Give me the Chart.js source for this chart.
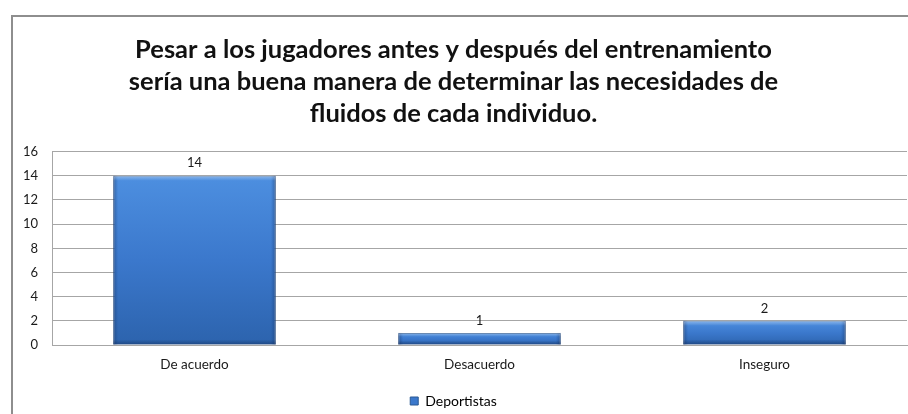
<!DOCTYPE html>
<html>
<head>
<meta charset="utf-8">
<script src="https://cdn.jsdelivr.net/npm/chart.js@4"></script>
<style>
  html, body { margin: 0; padding: 0; background: #fff; }
  #wrap { position: relative; width: 908px; height: 414px; overflow: hidden; }
  #frame {
    position: absolute; left: 11px; top: 15px; width: 920px; height: 420px;
    border-left: 2px solid #8e8e8e; border-top: 2px solid #8e8e8e;
  }
  #chart { position: absolute; left: 0; top: 0; }
</style>
</head>
<body>
<div id="wrap">
  <div id="frame"></div>
  <canvas id="chart" width="908" height="414"></canvas>
</div>
<script>
const categories = ['De acuerdo', 'Desacuerdo', 'Inseguro'];
const deportistas = [14, 1, 2];
const titleLines = [
    'Pesar a los jugadores antes y después del entrenamiento',
    'sería una buena manera de determinar las necesidades de',
    'fluidos de cada individuo.'
];

// vertical gradient per bar, lighter at the top
function barFill(context) {
    const chart = context.chart;
    const y = chart.scales.y;
    if (!y || !chart.chartArea) return '#3c78c8';
    const v = context.raw || 0;
    const top = y.getPixelForValue(v);
    const bottom = y.getPixelForValue(0);
    const g = chart.ctx.createLinearGradient(0, top, 0, bottom);
    g.addColorStop(0, '#4d8fe0');
    g.addColorStop(0.5, '#3b78cc');
    g.addColorStop(1, '#2c63ad');
    return g;
}

// darker edges to give the bars a bevelled look, plus value labels
const barExtras = {
    id: 'barExtras',
    afterDatasetsDraw(chart) {
        const ctx = chart.ctx;
        const meta = chart.getDatasetMeta(0);
        meta.data.forEach((bar, i) => {
            const left = bar.x - bar.width / 2;
            const right = bar.x + bar.width / 2;
            const top = bar.y;
            const bottom = bar.base;
            ctx.save();
            const h = ctx.createLinearGradient(left, 0, right, 0);
            h.addColorStop(0, 'rgba(20,50,100,0.45)');
            h.addColorStop(0.03, 'rgba(20,50,100,0.0)');
            h.addColorStop(0.97, 'rgba(20,50,100,0.0)');
            h.addColorStop(1, 'rgba(20,50,100,0.45)');
            ctx.fillStyle = h;
            ctx.fillRect(left, top, right - left, bottom - top);
            const edge = Math.min(5, (bottom - top) / 3);
            const t = ctx.createLinearGradient(0, top, 0, top + edge);
            t.addColorStop(0, 'rgba(255,255,255,0.35)');
            t.addColorStop(1, 'rgba(255,255,255,0)');
            ctx.fillStyle = t;
            ctx.fillRect(left, top, right - left, edge);
            const b = ctx.createLinearGradient(0, bottom - edge, 0, bottom);
            b.addColorStop(0, 'rgba(10,30,70,0)');
            b.addColorStop(1, 'rgba(10,30,70,0.4)');
            ctx.fillStyle = b;
            ctx.fillRect(left, bottom - edge, right - left, edge);

            ctx.fillStyle = '#1a1a1a';
            ctx.font = '13px Lato';
            ctx.textAlign = 'center';
            ctx.textBaseline = 'bottom';
            ctx.fillText(String(deportistas[i]), bar.x, top - 6);
            ctx.restore();
        });
    }
};

new Chart(document.getElementById('chart'), {
    type: 'bar',
    data: {
        labels: categories,
        datasets: [{
            label: 'Deportistas',
            data: deportistas,
            backgroundColor: barFill,
            borderColor: '#2a5994',
            borderWidth: 1,
            categoryPercentage: 1,
            barPercentage: 0.57
        }]
    },
    options: {
        responsive: false,
        animation: false,
        layout: { padding: { top: 34, right: 1, left: 0, bottom: -4 } },
        plugins: {
            title: {
                display: true,
                text: titleLines,
                color: '#111',
                font: { family: 'Lato', size: 25.5, weight: 'bold', lineHeight: 1.25 },
                padding: { top: 0, bottom: 22 }
            },
            legend: {
                position: 'bottom',
                labels: {
                    color: '#1a1a1a',
                    font: { family: 'Lato', size: 14 },
                    boxWidth: 8,
                    boxHeight: 8,
                    padding: 1,
                    generateLabels: chart => [{
                        text: 'Deportistas',
                        fillStyle: '#3b78cc',
                        strokeStyle: '#2a5994',
                        lineWidth: 1,
                        datasetIndex: 0
                    }]
                }
            },
            tooltip: { enabled: false }
        },
        scales: {
            x: {
                afterFit: scale => { scale.height = 48; },
                grid: { display: false },
                border: { color: '#a6a6a6' },
                ticks: { color: '#1a1a1a', font: { family: 'Lato', size: 13.5 }, padding: 4 }
            },
            y: {
                min: 0,
                max: 16,
                afterFit: scale => { scale.width = 52; },
                grid: { color: '#a6a6a6', drawTicks: false },
                border: { color: '#a6a6a6' },
                ticks: { stepSize: 2, color: '#1a1a1a', font: { family: 'Lato', size: 13 }, padding: 14 }
            }
        }
    },
    plugins: [barExtras]
});
</script>
</body>
</html>
